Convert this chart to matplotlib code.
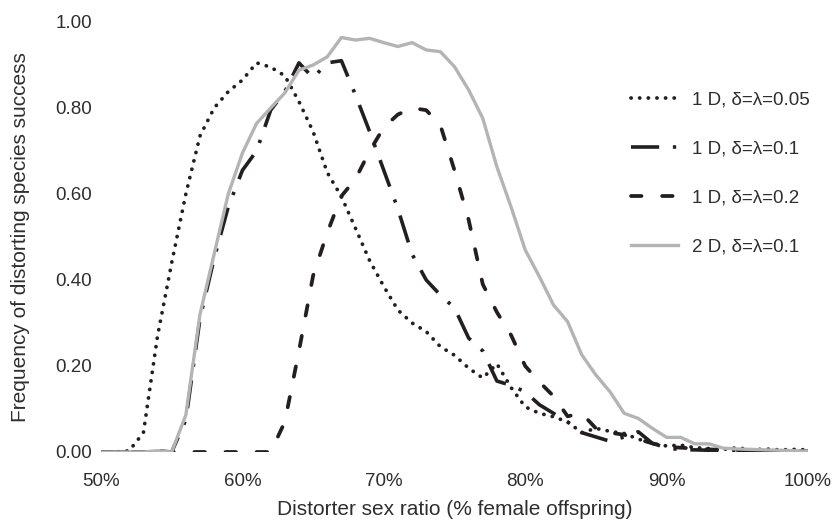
import matplotlib
matplotlib.use('Agg')
import matplotlib.pyplot as plt

plt.rcParams['font.family'] = ['Liberation Sans', 'DejaVu Sans']

# sex ratio of the distorter (% female offspring)
ratio = list(range(50, 101))

# 1 D, delta=lambda=0.05
dotted_05 = [0, 0, 0.003, 0.045, 0.27, 0.44, 0.60, 0.735, 0.80, 0.838,
             0.865, 0.905, 0.895, 0.875, 0.815, 0.745, 0.65, 0.594, 0.52, 0.445,
             0.385, 0.33, 0.30, 0.28, 0.245, 0.225, 0.195, 0.172, 0.205, 0.15,
             0.105, 0.09, 0.082, 0.07, 0.045, 0.055, 0.048, 0.043, 0.03, 0.02,
             0.014, 0.016, 0.01, 0.008, 0.006, 0.01, 0.005, 0.007, 0.005, 0.006,
             0.005]
# 1 D, delta=lambda=0.1
dashdot_1 = [0, 0, 0, 0, 0.003, 0, 0.075, 0.31, 0.45, 0.57,
             0.655, 0.70, 0.795, 0.838, 0.905, 0.87, 0.905, 0.91, 0.83, 0.745,
             0.655, 0.565, 0.46, 0.40, 0.365, 0.335, 0.265, 0.235, 0.165, 0.155,
             0.14, 0.11, 0.09, 0.07, 0.045, 0.035, 0.025, 0.035, 0.047, 0.02,
             0.01, 0.005, 0.005, 0.004, 0.003, 0.003, 0.002, 0.002, 0.002, 0.001,
             0.001]
# 1 D, delta=lambda=0.2
dashed_2 = [0, 0, 0, 0, 0, 0, 0, 0, 0, 0,
            0, 0, 0, 0.07, 0.235, 0.41, 0.51, 0.595, 0.635, 0.70,
            0.755, 0.785, 0.80, 0.795, 0.76, 0.655, 0.54, 0.39, 0.325, 0.272,
            0.20, 0.163, 0.13, 0.083, 0.09, 0.055, 0.045, 0.04, 0.03, 0.02,
            0.012, 0.01, 0.008, 0.006, 0.005, 0.004, 0.003, 0.003, 0.002, 0.002,
            0.002]
# 2 D, delta=lambda=0.1
grey_2d = [0, 0, 0, 0, 0.003, 0, 0.086, 0.32, 0.46, 0.60,
           0.695, 0.764, 0.80, 0.835, 0.888, 0.90, 0.919, 0.964, 0.958, 0.962,
           0.952, 0.943, 0.952, 0.935, 0.931, 0.896, 0.842, 0.776, 0.663, 0.570,
           0.470, 0.408, 0.342, 0.303, 0.226, 0.179, 0.140, 0.090, 0.078, 0.055,
           0.034, 0.034, 0.019, 0.019, 0.009, 0.007, 0.006, 0.005, 0.004, 0.003,
           0.002]

labels = ['1 D, δ=λ=0.05', '1 D, δ=λ=0.1', '1 D, δ=λ=0.2', '2 D, δ=λ=0.1']
xticks = [50, 60, 70, 80, 90, 100]
yticks = [0, 0.2, 0.4, 0.6, 0.8, 1.0]

black = '#231f20'
text_col = '#2e2e2e'

fig = plt.figure(figsize=(8.33, 5.22), dpi=100)
ax = fig.add_axes([101 / 833, 1 - 452 / 522, 707 / 833, 430 / 522])

ax.plot(ratio, dotted_05, color=black, lw=2.7, dashes=(0.05, 2.25),
        dash_capstyle='round', label=labels[0])
ax.plot(ratio, dashdot_1, color=black, lw=2.6, dashes=(7.8, 3.8, 0.9, 3.8),
        dash_capstyle='butt', label=labels[1])
ax.plot(ratio, dashed_2, color=black, lw=2.7, dashes=(2.8, 5.5),
        dash_capstyle='round', label=labels[2])
ax.plot(ratio, grey_2d, color='#b4b4b4', lw=2.4, label=labels[3])

ax.set_xlim(50, 100)
ax.set_ylim(0, 1)
ax.set_xticks(xticks)
ax.set_xticklabels([f'{t}%' for t in xticks])
ax.set_yticks(yticks)
ax.set_yticklabels([f'{t:.2f}' for t in yticks])
ax.tick_params(length=0, labelsize=13.5, colors=text_col)
ax.tick_params(axis='y', pad=6.5)
ax.tick_params(axis='x', pad=15)
for s in ax.spines.values():
    s.set_visible(False)

ax.set_xlabel('Distorter sex ratio (% female offspring)', fontsize=15,
              color=text_col)
ax.xaxis.set_label_coords(0.5, -0.112)
ax.set_ylabel('Frequency of distorting species success', fontsize=15,
              color=text_col)
ax.yaxis.set_label_coords(-0.100, 0.5)

ax.legend(loc='upper left', bbox_to_anchor=(631 / 833, 1 - 91.5 / 522),
          bbox_transform=fig.transFigure, frameon=False, fontsize=13.5,
          handlelength=2.5, handletextpad=0.75, labelspacing=1.69,
          borderpad=0, borderaxespad=0, labelcolor=text_col)

fig.savefig('out.png', dpi=100)
